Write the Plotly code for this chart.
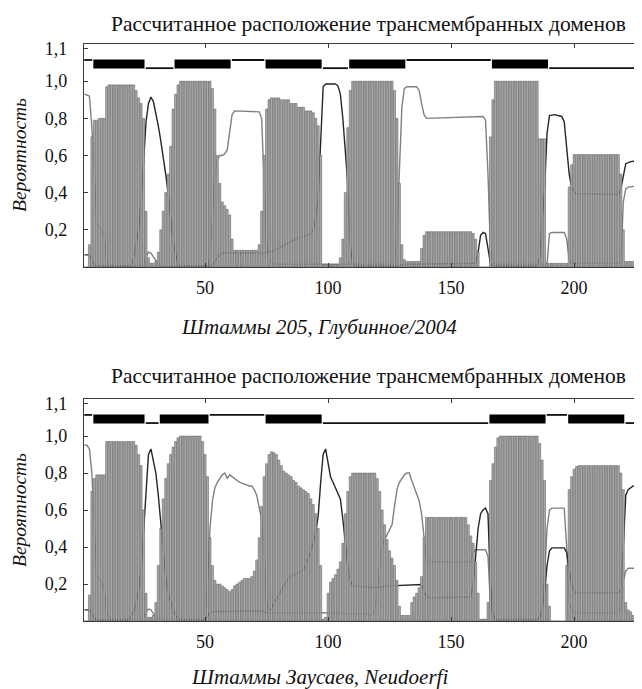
import plotly.graph_objects as go

# ---------------- data ----------------
POS = list(range(1, 229))

TOP_TM = [
    0, 0, 0.12, 0.7, 0.79, 0.79, 0.8, 0.8, 0.8, 0.97,
    0.98, 0.98, 0.98, 0.98, 0.98, 0.98, 0.98, 0.98, 0.98, 0.98,
    0.98, 0.95, 0.91, 0.88, 0.8, 0.3, 0.05, 0.02, 0.02, 0.03,
    0.08, 0.2, 0.3, 0.4, 0.5, 0.65, 0.85, 0.93, 0.98, 1.0,
    1.0, 1.0, 1.0, 1.0, 1.0, 1.0, 1.0, 1.0, 1.0, 1.0,
    1.0, 1.0, 0.96, 0.85, 0.6, 0.45, 0.35, 0.33, 0.31, 0.28,
    0.15, 0.09, 0.09, 0.09, 0.09, 0.09, 0.09, 0.09, 0.09, 0.09,
    0.09, 0.12, 0.3, 0.6, 0.85, 0.9, 0.91, 0.91, 0.91, 0.91,
    0.9, 0.9, 0.9, 0.9, 0.88, 0.88, 0.88, 0.86, 0.86, 0.86,
    0.84, 0.84, 0.84, 0.83, 0.8, 0.76, 0.6, 0.01, 0.01, 0.01,
    0.01, 0.01, 0.01, 0.01, 0.05, 0.15, 0.4, 0.75, 0.95, 1.0,
    1.0, 1.0, 1.0, 1.0, 1.0, 1.0, 1.0, 1.0, 1.0, 1.0,
    1.0, 1.0, 1.0, 1.0, 1.0, 1.0, 0.95, 0.8, 0.45, 0.12,
    0.04, 0.03, 0.03, 0.03, 0.03, 0.03, 0.03, 0.1, 0.17, 0.19,
    0.19, 0.19, 0.19, 0.19, 0.19, 0.19, 0.19, 0.19, 0.19, 0.19,
    0.19, 0.19, 0.19, 0.19, 0.19, 0.19, 0.19, 0.19, 0.18, 0.15,
    0.08, 0, 0, 0, 0, 0.7, 0.9, 1.0, 1.0, 1.0,
    1.0, 1.0, 1.0, 1.0, 1.0, 1.0, 1.0, 1.0, 1.0, 1.0,
    1.0, 1.0, 1.0, 1.0, 1.0, 0.69, 0.69, 0.69, 0.02, 0.02,
    0.02, 0.02, 0.02, 0.02, 0.02, 0.02, 0.02, 0.43, 0.55, 0.605,
    0.605, 0.605, 0.605, 0.605, 0.605, 0.605, 0.605, 0.605, 0.605, 0.605,
    0.605, 0.605, 0.605, 0.605, 0.605, 0.605, 0.605, 0.605, 0.5, 0.2,
    0.03, 0.03, 0.03, 0.03, 0.03, 0.03, 0.03, 0.03,
]

BOT_TM = [
    0, 0, 0.14, 0.7, 0.77, 0.79, 0.79, 0.79, 0.79, 0.97,
    0.97, 0.97, 0.97, 0.97, 0.97, 0.97, 0.97, 0.97, 0.97, 0.97,
    0.97, 0.95, 0.9, 0.84, 0.6, 0.15, 0.02, 0.02, 0.03, 0.1,
    0.3, 0.5, 0.66, 0.77, 0.85, 0.9, 0.94, 0.97, 0.99, 1.0,
    1.0, 1.0, 1.0, 1.0, 1.0, 1.0, 1.0, 1.0, 0.97, 0.9,
    0.78, 0.45, 0.3, 0.22, 0.2, 0.2, 0.19, 0.18, 0.17, 0.16,
    0.17, 0.19, 0.2, 0.21, 0.22, 0.23, 0.23, 0.23, 0.24, 0.27,
    0.33, 0.45, 0.62, 0.78, 0.85, 0.9, 0.915, 0.91, 0.9, 0.87,
    0.84, 0.81, 0.8, 0.79, 0.78, 0.76, 0.75, 0.73, 0.72, 0.71,
    0.7, 0.69, 0.66, 0.63, 0.58, 0.5, 0.3, 0.01, 0.02, 0.15,
    0.21, 0.23, 0.25, 0.28, 0.32, 0.42, 0.58, 0.7, 0.78, 0.8,
    0.8, 0.8, 0.8, 0.8, 0.8, 0.8, 0.8, 0.8, 0.8, 0.77,
    0.7, 0.6, 0.52, 0.44, 0.38, 0.34, 0.3, 0.22, 0.08, 0.03,
    0.03, 0.03, 0.03, 0.1, 0.13, 0.15, 0.18, 0.24, 0.45, 0.56,
    0.56, 0.56, 0.56, 0.56, 0.56, 0.56, 0.56, 0.56, 0.56, 0.56,
    0.56, 0.56, 0.56, 0.56, 0.56, 0.56, 0.52, 0.46, 0.42, 0.32,
    0.15, 0.01, 0.01, 0.01, 0.1, 0.76, 0.85, 0.94, 0.99, 1.0,
    1.0, 1.0, 1.0, 1.0, 1.0, 1.0, 1.0, 1.0, 1.0, 1.0,
    1.0, 1.0, 1.0, 1.0, 1.0, 0.96, 0.87, 0.76, 0.2, 0.08,
    0, 0, 0, 0, 0, 0, 0.3, 0.71, 0.78, 0.82,
    0.835, 0.84, 0.84, 0.84, 0.84, 0.84, 0.84, 0.84, 0.84, 0.84,
    0.84, 0.84, 0.84, 0.84, 0.84, 0.84, 0.84, 0.84, 0.8, 0.71,
    0.1, 0.06, 0.05, 0.03, 0.02, 0, 0, 0,
]

# inside (dark line) and outside (grey line) probabilities: (position, value)
TOP_INSIDE = [
    (1, 0.065), (3, 0.065), (4, 0.04), (5, 0.01), (6, 0.005), (20, 0.005), (21, 0.05),
    (22, 0.12), (23, 0.2), (24, 0.35), (25, 0.6), (26, 0.78), (27, 0.88), (28, 0.915),
    (29, 0.89), (30, 0.83), (31, 0.76), (32, 0.68), (33, 0.6), (34, 0.5), (35, 0.4),
    (36, 0.26), (37, 0.14), (38, 0.07), (39, 0.02), (40, 0.005), (52, 0.005), (53, 0.01),
    (54, 0.03), (55, 0.05), (56, 0.07), (57, 0.075), (74, 0.075), (76, 0.08), (78, 0.09),
    (80, 0.1), (82, 0.115), (84, 0.13), (86, 0.145), (88, 0.155), (90, 0.165), (92, 0.172),
    (93, 0.18), (94, 0.2), (95, 0.26), (96, 0.38), (97, 0.7), (98, 0.97), (99, 0.985),
    (103, 0.985), (104, 0.975), (105, 0.93), (106, 0.8), (107, 0.62), (108, 0.45),
    (109, 0.12), (110, 0.02), (111, 0.005), (128, 0.005), (131, 0.015), (160, 0.02),
    (161, 0.08), (162, 0.17), (163, 0.186), (164, 0.18), (165, 0.1), (166, 0.02),
    (167, 0.005), (185, 0.005), (186, 0.05), (187, 0.22), (188, 0.42), (189, 0.72),
    (190, 0.815), (192, 0.82), (195, 0.81), (196, 0.78), (197, 0.65), (198, 0.5),
    (199, 0.43), (200, 0.405), (201, 0.395), (218, 0.39), (219, 0.42), (220, 0.5),
    (221, 0.556), (223, 0.567), (228, 0.575),
]
TOP_OUTSIDE = [
    (1, 0.93), (3, 0.92), (4, 0.75), (5, 0.45), (6, 0.24), (7, 0.21), (8, 0.2), (9, 0.17),
    (10, 0.04), (11, 0.005), (24, 0.005), (25, 0.02), (26, 0.05), (27, 0.08), (28, 0.075),
    (29, 0.055), (30, 0.035), (31, 0.015), (32, 0.005), (51, 0.005), (52, 0.05), (53, 0.3),
    (54, 0.5), (55, 0.58), (56, 0.6), (57, 0.6), (58, 0.61), (59, 0.63), (60, 0.72),
    (61, 0.82), (62, 0.84), (72, 0.835), (73, 0.8), (74, 0.5), (75, 0.12), (76, 0.05),
    (77, 0.02), (78, 0.015), (127, 0.015), (128, 0.18), (129, 0.52), (130, 0.86),
    (131, 0.96), (132, 0.97), (136, 0.97), (137, 0.95), (138, 0.88), (139, 0.82),
    (140, 0.80), (163, 0.81), (164, 0.79), (165, 0.5), (166, 0.1), (167, 0.03),
    (168, 0.015), (189, 0.015), (190, 0.18), (191, 0.186), (196, 0.186), (197, 0.15),
    (198, 0.04), (199, 0.02), (219, 0.02), (220, 0.35), (221, 0.42), (222, 0.43), (228, 0.44),
]
BOT_INSIDE = [
    (1, 0.06), (3, 0.06), (4, 0.04), (5, 0.015), (6, 0.005), (19, 0.005), (20, 0.03),
    (21, 0.05), (22, 0.1), (23, 0.17), (24, 0.27), (25, 0.48), (26, 0.75), (27, 0.9),
    (28, 0.93), (29, 0.87), (30, 0.8), (31, 0.68), (32, 0.52), (33, 0.36), (34, 0.24),
    (35, 0.15), (36, 0.1), (37, 0.06), (38, 0.03), (39, 0.015), (40, 0.005), (50, 0.005),
    (51, 0.03), (52, 0.05), (74, 0.055), (75, 0.04), (76, 0.05), (77, 0.07), (78, 0.1),
    (79, 0.12), (80, 0.14), (81, 0.17), (82, 0.19), (83, 0.21), (84, 0.23), (86, 0.25),
    (88, 0.26), (90, 0.28), (91, 0.3), (92, 0.34), (93, 0.38), (94, 0.42), (95, 0.48),
    (96, 0.57), (97, 0.75), (98, 0.9), (99, 0.93), (100, 0.85), (101, 0.78), (102, 0.75),
    (103, 0.72), (104, 0.69), (105, 0.66), (106, 0.55), (107, 0.42), (108, 0.3),
    (109, 0.22), (110, 0.19), (119, 0.18), (125, 0.19), (138, 0.197), (139, 0.16),
    (140, 0.135), (141, 0.125), (158, 0.13), (159, 0.2), (160, 0.35), (161, 0.5),
    (162, 0.58), (163, 0.6), (164, 0.61), (165, 0.58), (166, 0.2), (167, 0.04),
    (168, 0.005), (185, 0.005), (186, 0.02), (187, 0.06), (188, 0.15), (189, 0.3),
    (190, 0.38), (191, 0.395), (196, 0.395), (197, 0.37), (198, 0.28), (199, 0.2),
    (200, 0.16), (201, 0.152), (218, 0.152), (219, 0.17), (220, 0.4), (221, 0.68),
    (222, 0.71), (224, 0.73), (228, 0.735),
]
BOT_OUTSIDE = [
    (1, 0.95), (2, 0.95), (3, 0.93), (4, 0.8), (5, 0.5), (6, 0.25), (7, 0.22), (8, 0.21),
    (9, 0.17), (10, 0.05), (11, 0.02), (12, 0.01), (24, 0.01), (25, 0.02), (26, 0.05),
    (27, 0.065), (28, 0.06), (29, 0.04), (30, 0.02), (31, 0.01), (50, 0.01), (51, 0.2),
    (52, 0.5), (53, 0.65), (54, 0.72), (55, 0.75), (56, 0.77), (57, 0.79), (58, 0.8),
    (59, 0.77), (60, 0.79), (61, 0.78), (62, 0.77), (63, 0.76), (64, 0.75), (66, 0.74),
    (68, 0.73), (69, 0.73), (70, 0.71), (71, 0.68), (72, 0.62), (73, 0.55), (74, 0.35),
    (75, 0.1), (76, 0.045), (97, 0.045), (109, 0.04), (118, 0.035), (119, 0.06),
    (120, 0.15), (121, 0.3), (122, 0.4), (123, 0.44), (124, 0.47), (125, 0.49),
    (126, 0.52), (127, 0.62), (128, 0.71), (129, 0.75), (130, 0.77), (131, 0.79),
    (132, 0.8), (133, 0.8), (134, 0.76), (135, 0.72), (136, 0.69), (137, 0.65),
    (138, 0.58), (139, 0.45), (140, 0.33), (141, 0.32), (157, 0.32), (158, 0.33),
    (159, 0.37), (160, 0.385), (164, 0.385), (165, 0.35), (166, 0.1), (167, 0.02),
    (168, 0.01), (186, 0.01), (187, 0.05), (188, 0.25), (189, 0.5), (190, 0.6),
    (191, 0.61), (196, 0.61), (197, 0.4), (198, 0.1), (199, 0.06), (200, 0.045),
    (218, 0.045), (219, 0.08), (220, 0.22), (221, 0.27), (222, 0.285), (228, 0.285),
]

# predicted topology (residue ranges)
TOP_TM_SEG = [(5, 25), (38, 60), (75, 97), (109, 131), (167, 189)]
TOP_IN_SEG = [(26, 37), (98, 108), (190, 228)]
TOP_OUT_SEG = [(1, 4), (61, 74), (132, 166)]
BOT_TM_SEG = [(5, 25), (32, 51), (75, 97), (166, 188), (198, 220)]
BOT_IN_SEG = [(26, 31), (98, 165), (221, 228)]
BOT_OUT_SEG = [(1, 4), (52, 74), (189, 197)]

Y_TICKS = [0.2, 0.4, 0.6, 0.8, 1.0, 1.175]
Y_TICK_TEXT = ["0,2", "0,4", "0,6", "0,8", "1,0", "1,1"]
X_TICKS = [50, 100, 150, 200]
TITLE = "Рассчитанное расположение трансмембранных доменов"
CAPTIONS = ["Штаммы 205, Глубинное/2004", "Штаммы Заусаев, Neudoerfi"]
Y_TITLE = "Вероятность"

assert len(TOP_TM) == len(POS) and len(BOT_TM) == len(POS)

# ---------------- styling ----------------
FONT = "Liberation Serif, Times New Roman, serif"
OFF = 8                      # page body margin of the browser
W, H = 642 - OFF, 689 - OFF  # figure size so the page fits the window
ML, MR, MT, MB = 84 - OFF, 0, 44 - OFF, 689 - 621
PH = H - MT - MB
PW = W - ML - MR
X_RANGE = [0.8, 227.6]
Y_RANGE = [0, 1.2]
TM_Y, OUT_Y, IN_Y = 1.092, 1.114, 1.07


def py_to_paper(py):
    """screen pixel (window coords) -> paper fraction"""
    return (H - MB - (py - OFF)) / PH


def px_to_paper(px):
    return (px - OFF - ML) / PW


def seg_xy(segs, y, pad):
    xs, ys = [], []
    for a, b in segs:
        xs += [a - pad, b + pad, None]
        ys += [y, y, None]
    return xs, ys


fig = go.Figure()

panels = [
    dict(tm=TOP_TM, ins=TOP_INSIDE, out=TOP_OUTSIDE, tmseg=TOP_TM_SEG,
         inseg=TOP_IN_SEG, outseg=TOP_OUT_SEG, base=("x", "y"), over=("x3", "y3")),
    dict(tm=BOT_TM, ins=BOT_INSIDE, out=BOT_OUTSIDE, tmseg=BOT_TM_SEG,
         inseg=BOT_IN_SEG, outseg=BOT_OUT_SEG, base=("x2", "y2"), over=("x4", "y4")),
]

for p in panels:
    bx, by = p["base"]
    ox, oy = p["over"]
    # probability lines (underneath the bars)
    fig.add_trace(go.Scatter(x=[a for a, _ in p["out"]], y=[b for _, b in p["out"]],
                             mode="lines", line=dict(color="#808080", width=1.4),
                             xaxis=bx, yaxis=by, hoverinfo="skip"))
    fig.add_trace(go.Scatter(x=[a for a, _ in p["ins"]], y=[b for _, b in p["ins"]],
                             mode="lines", line=dict(color="#262626", width=1.4),
                             xaxis=bx, yaxis=by, hoverinfo="skip"))
    # topology track
    xs, ys = seg_xy(p["outseg"], OUT_Y, 0.1)
    fig.add_trace(go.Scatter(x=xs, y=ys, mode="lines", line=dict(color="#111", width=1.8),
                             xaxis=bx, yaxis=by, hoverinfo="skip"))
    xs, ys = seg_xy(p["inseg"], IN_Y, 0.1)
    fig.add_trace(go.Scatter(x=xs, y=ys, mode="lines", line=dict(color="#111", width=1.8),
                             xaxis=bx, yaxis=by, hoverinfo="skip"))
    xs, ys = seg_xy(p["tmseg"], TM_Y, 0.4)
    fig.add_trace(go.Scatter(x=xs, y=ys, mode="lines", line=dict(color="#000", width=9),
                             xaxis=bx, yaxis=by, hoverinfo="skip"))
    # TM probability bars on an overlaid axis so they sit above the lines
    fig.add_trace(go.Bar(x=POS, y=p["tm"], xaxis=ox, yaxis=oy,
                         marker=dict(color="#ababab", line=dict(color="#555555", width=0.5)),
                         hoverinfo="skip"))

top_dom = [py_to_paper(267), 1.0]
bot_dom = [0.0, py_to_paper(399)]

axis_common = dict(range=X_RANGE, showgrid=False, zeroline=False, showline=True,
                   linecolor="#3a3a3a", linewidth=1.4, mirror="ticks", ticks="inside",
                   ticklen=4, tickcolor="#3a3a3a", tickvals=X_TICKS,
                   tickfont=dict(family=FONT, size=18, color="#111"))
yaxis_common = dict(range=Y_RANGE, showgrid=False, zeroline=False, showline=True,
                    linecolor="#3a3a3a", linewidth=1.4, ticks="inside", ticklen=4,
                    tickcolor="#3a3a3a", tickvals=Y_TICKS, ticktext=Y_TICK_TEXT,
                    tickfont=dict(family=FONT, size=18, color="#111"),
                    ticklabelstandoff=12)
hidden_x = dict(range=X_RANGE, visible=False, showgrid=False, zeroline=False)
hidden_y = dict(range=Y_RANGE, visible=False, showgrid=False, zeroline=False)

fig.update_layout(
    width=W, height=H, margin=dict(l=ML, r=MR, t=MT, b=MB, autoexpand=False),
    paper_bgcolor="white", plot_bgcolor="white", showlegend=False,
    bargap=0.18,
    xaxis=dict(domain=[0, 1], anchor="y", ticklabelstandoff=4, **axis_common),
    yaxis=dict(domain=top_dom, anchor="x", **yaxis_common),
    xaxis2=dict(domain=[0, 1], anchor="y2", ticklabelstandoff=4, **axis_common),
    yaxis2=dict(domain=bot_dom, anchor="x2", **yaxis_common),
    xaxis3=dict(overlaying="x", anchor="y3", **hidden_x),
    yaxis3=dict(overlaying="y", anchor="x3", **hidden_y),
    xaxis4=dict(overlaying="x2", anchor="y4", **hidden_x),
    yaxis4=dict(overlaying="y2", anchor="x4", **hidden_y),
)

ann = []
for ty, cy, yy, cap in [(24, 327, 155, CAPTIONS[0]), (376, 677, 510, CAPTIONS[1])]:
    ann.append(dict(text=TITLE, x=px_to_paper(368.5), y=py_to_paper(ty), xref="paper",
                    yref="paper", showarrow=False, xanchor="center", yanchor="middle",
                    font=dict(family=FONT, size=21.5, color="#111")))
    ann.append(dict(text="<i>" + cap + "</i>", x=px_to_paper(319), y=py_to_paper(cy),
                    xref="paper", yref="paper", showarrow=False, xanchor="center",
                    yanchor="middle", font=dict(family=FONT, size=21, color="#111")))
    ann.append(dict(text="<i>" + Y_TITLE + "</i>", x=px_to_paper(19), y=py_to_paper(yy),
                    xref="paper", yref="paper", showarrow=False, textangle=-90,
                    xanchor="center", yanchor="middle",
                    font=dict(family=FONT, size=19.5, color="#111")))
fig.update_layout(annotations=ann)

fig.write_html("out.html")
